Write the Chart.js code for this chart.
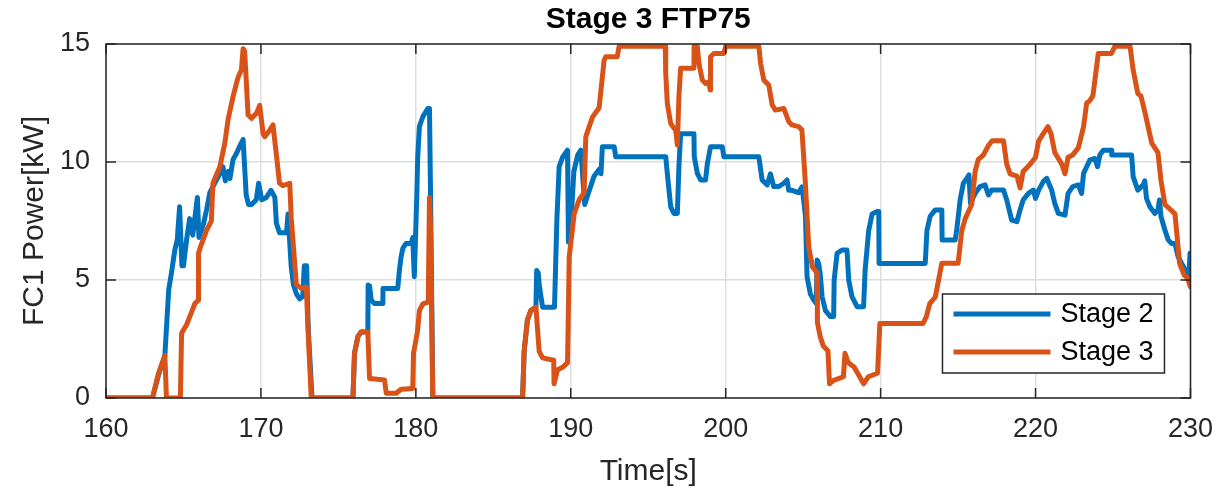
<!DOCTYPE html>
<html>
<head>
<meta charset="utf-8">
<script src="https://cdn.jsdelivr.net/npm/chart.js@4/dist/chart.umd.min.js"></script>
<style>
  html, body { margin: 0; padding: 0; background: #fff; }
  #wrap { width: 1228px; height: 492px; }
</style>
</head>
<body>
<div id="wrap"><canvas id="fcChart" width="1228" height="492"></canvas></div>
<script>
// ===================================
// DATA
// ===================================
const xTicks = [160, 170, 180, 190, 200, 210, 220, 230];
const yTicks = [0, 5, 10, 15];
const seriesLabels = ['Stage 2', 'Stage 3'];

const stage2Time = [
  160, 163.0, 163.4, 163.8, 163.95, 164.05, 164.2, 164.45, 164.6, 164.75, 164.9, 165.0, 165.2, 165.4,
  165.6, 165.9, 166.0, 166.3, 166.5, 166.7, 167.1, 167.35, 167.55, 167.7, 167.9, 168.0, 168.2, 168.45,
  168.65, 168.85, 169.05, 169.2, 169.4, 169.7, 169.85, 170.05, 170.35, 170.65, 170.9, 171.0, 171.2,
  171.65, 171.75, 171.95, 172.1, 172.3, 172.5, 172.7, 172.8, 172.95, 173.05, 173.3,
  175.94, 176.04, 176.26, 176.47, 176.9, 176.92, 177.01, 177.12, 177.33, 177.87, 177.88, 178.83, 178.94,
  179.05, 179.16, 179.37, 179.7, 179.8, 179.9, 180.06, 180.12, 180.23, 180.45, 180.77, 180.88, 180.95, 181.1,
  186.89, 186.99, 187.2, 187.42, 187.75, 187.8, 187.9, 187.96, 188.18, 188.95, 189.1, 189.25, 189.47,
  189.79, 189.85, 189.95, 190.2, 190.45, 190.65, 190.9, 191.1, 191.3, 191.5, 191.85, 191.95, 192.04,
  192.8, 192.9, 196.13, 196.23, 196.45, 196.66, 196.88, 196.98, 197.09, 197.95, 197.97, 198.17, 198.38,
  198.7, 198.81, 199.02, 199.78, 199.88, 202.14, 202.35, 202.68, 202.89, 203.1, 203.43, 203.75, 203.96,
  204.07, 204.28, 204.7, 204.93, 205.15, 205.25, 205.47, 205.68, 205.85, 205.9, 206.0, 206.1, 206.22,
  206.44, 206.76, 206.97, 207.0, 207.19, 207.51, 207.83, 207.94, 208.15, 208.48, 208.9, 209.0, 209.23,
  209.45, 209.77, 209.88, 209.9, 212.88, 212.99, 213.2, 213.53, 213.95, 213.97, 214.81, 214.91, 215.13,
  215.34, 215.46, 215.7, 215.8, 216.1, 216.42, 216.74, 216.96, 217.17, 217.93, 218.14, 218.46, 218.8,
  219.0, 219.2, 219.54, 219.86, 220.0, 220.2, 220.5, 220.72, 221.04, 221.24, 221.47, 221.9, 222.1, 222.4,
  222.76, 222.97, 223.1, 223.3, 223.5, 223.83, 224.0, 224.15, 224.37, 224.9, 224.92, 226.2, 226.3, 226.6,
  226.95, 227.05, 227.16, 227.38, 227.7, 227.9, 228.0, 228.1, 228.35, 228.56, 228.78, 229.0, 229.2,
  229.42, 229.6, 229.8, 229.9, 229.97
];
const stage2Power = [
  0, 0, 1.0, 1.8, 3.5, 4.6, 5.2, 6.3, 6.7, 8.1, 5.6, 5.6, 6.7, 7.6,
  6.9, 8.5, 6.8, 7.4, 8.0, 8.7, 9.2, 9.5, 9.8, 9.2, 9.6, 9.3, 10.1, 10.4,
  10.7, 10.95, 8.6, 8.2, 8.2, 8.4, 9.1, 8.4, 8.5, 8.8, 8.5, 7.4, 7.0,
  7.0, 7.8, 5.6, 4.8, 4.4, 4.2, 4.3, 5.6, 5.6, 3.0, 0,
  0, 1.9, 2.6, 2.8, 2.8, 4.79, 4.75, 4.15, 4.0, 4.0, 4.64, 4.64, 5.42,
  5.99, 6.34, 6.55, 6.55, 6.8, 5.14, 8.53, 10.2, 11.5, 11.92, 12.27, 12.27, 8.5, 0,
  0, 1.98, 3.3, 3.7, 3.85, 5.4, 5.3, 4.8, 3.85, 3.85, 7.5, 9.8, 10.2,
  10.5, 6.6, 6.7, 9.6, 10.3, 10.5, 8.2, 8.6, 9.0, 9.4, 9.7, 9.5, 10.65,
  10.65, 10.22, 10.22, 9.52, 8.1, 7.82, 7.82, 9.8, 11.2, 11.2, 10.22, 9.52, 9.24,
  9.24, 9.9, 10.65, 10.65, 10.22, 10.22, 9.24, 9.03, 9.5, 8.96, 8.96, 9.1, 9.24,
  8.8, 8.8, 8.7, 8.95, 7.7, 5.14, 4.4, 4.15, 4.0, 5.85, 5.7, 5.28, 4.3,
  3.7, 3.45, 3.45, 5.0, 6.13, 6.27, 6.27, 5.0, 4.3, 3.87, 3.87, 5.42, 7.1,
  7.8, 7.9, 7.9, 5.7, 5.7, 7.1, 7.7, 7.97, 7.97, 6.69, 6.69, 7.1, 8.39,
  9.1, 9.2, 9.45, 8.25, 8.67, 8.96, 9.03, 8.6, 8.81, 8.81, 8.39, 7.54, 7.47,
  7.97, 8.39, 8.67, 8.81, 8.46, 8.81, 9.17, 9.31, 8.81, 8.25, 7.82, 7.75, 8.67, 8.96,
  9.03, 8.67, 9.52, 9.8, 10.08, 10.15, 9.8, 10.3, 10.5, 10.5, 10.3, 10.3, 9.38, 8.81,
  9.03, 9.2, 8.46, 8.1, 7.82, 7.97, 8.39, 7.68, 7.12, 6.7, 6.55, 6.55, 5.99,
  5.71, 5.5, 5.28, 5.2, 6.13
];

const stage3Time = [
  160, 163.0, 163.37, 163.8, 163.9, 164.8, 164.88, 165.2, 165.73, 165.95, 165.97, 166.1, 166.49, 166.8,
  166.9, 167.35, 167.67, 167.88, 168.2, 168.42, 168.53, 168.74, 168.85, 168.95, 169.17, 169.39, 169.71,
  169.92, 170.14, 170.25, 170.57, 170.78, 171.0, 171.2, 171.42, 171.86, 171.96, 172.18, 172.29, 172.6,
  172.93, 173.04, 173.25,
  175.94, 176.04, 176.26, 176.47, 176.9, 177.01, 177.98, 178.09, 178.73, 179.05, 179.8, 179.85, 180.1,
  180.23, 180.45, 180.8, 180.88, 180.95, 181.09,
  186.89, 186.99, 187.2, 187.42, 187.75, 187.96, 188.18, 188.9, 188.92, 189.15, 189.47, 189.79, 189.9,
  190.22, 190.54, 190.86, 190.97, 191.19, 191.4, 191.83, 192.15, 192.26, 193.0, 193.12, 196.1, 196.13,
  196.23, 196.45, 196.66, 196.77, 196.88, 196.98, 197.09, 197.95, 197.96, 198.17, 198.27, 198.49, 198.7,
  198.91, 199.0, 199.02, 199.24, 199.88, 200.0, 202.14, 202.25, 202.46, 202.78, 203.0, 203.2, 203.75,
  204.07, 204.28, 204.7, 204.92, 205.13, 205.36, 205.6, 205.9, 205.92, 206.1, 206.3, 206.6, 206.7,
  206.97, 207.6, 207.7, 207.8, 207.9, 208.3, 208.9, 209.2, 209.8, 209.95, 212.74, 212.95, 213.17, 213.53,
  213.95, 215.0, 215.24, 215.46, 215.88, 216.1, 216.3, 216.64, 216.96, 217.2, 217.93, 218.14, 218.36,
  218.8, 219.0, 219.2, 219.65, 220.0, 220.2, 220.5, 220.8, 221.0, 221.24, 221.7, 221.9, 222.1, 222.4,
  222.76, 223.1, 223.3, 223.5, 223.7, 224.05, 224.9, 225.12, 226.1, 226.3, 226.6, 226.8, 227.06, 227.5,
  227.9, 228.1, 228.35, 229.0, 229.1, 229.3, 229.6, 229.8, 230.0
];
const stage3Power = [
  0, 0, 1.0, 1.8, 0, 0, 2.74, 3.1, 3.99, 4.14, 6.13, 6.4, 7.1, 7.5,
  9.1, 9.8, 10.8, 11.8, 12.77, 13.33, 13.6, 13.9, 14.8, 14.7, 12.0, 11.85, 12.06,
  12.4, 11.2, 11.07, 11.35, 11.57, 10.3, 9.1, 9.0, 9.1, 7.6, 5.7, 4.8, 4.65,
  4.7, 2.9, 0,
  0, 1.9, 2.6, 2.8, 2.8, 0.83, 0.76, 0.2, 0.2, 0.37, 0.4, 1.9, 2.8,
  3.7, 3.99, 4.06, 8.5, 7.1, 0,
  0, 1.98, 3.3, 3.7, 3.85, 1.98, 1.7, 1.6, 0.6, 1.2, 1.3, 1.5, 5.98,
  7.8, 8.4, 8.7, 11.07, 11.5, 11.9, 12.3, 14.3, 14.46, 14.46, 14.9, 14.9, 13.76,
  12.49, 11.64, 11.43, 11.36, 10.72, 12.77, 13.97, 13.97, 14.9, 14.9, 14.18, 13.47, 13.33,
  13.4, 13.05, 14.46, 14.6, 14.6, 14.9, 14.9, 14.18, 13.47, 13.26, 12.42, 12.2, 12.27,
  11.71, 11.57, 11.5, 11.36, 9.24, 6.4, 5.55, 5.3, 3.2, 2.6, 2.2, 2.0, 0.6,
  0.75, 0.9, 1.9, 1.7, 1.5, 1.3, 0.6, 0.9, 1.05, 3.16, 3.16, 3.45, 4.0, 4.28,
  5.71, 5.71, 7.1, 7.6, 8.2, 9.6, 10.1, 10.3, 10.7, 10.9, 10.9, 9.9, 9.5,
  9.4, 8.9, 9.6, 9.9, 10.2, 10.9, 11.2, 11.5, 11.2, 10.4, 9.9, 9.5, 10.2, 10.3,
  10.6, 11.5, 12.5, 12.6, 12.8, 14.6, 14.6, 14.9, 14.9, 13.9, 12.9, 12.8, 12.1, 10.8,
  10.4, 9.2, 8.2, 7.8, 7.1, 5.7, 5.2, 5.1, 4.7
];

// ===================================
// HELPERS / PLUGINS
// ===================================
const axisColor = '#262626';
const fontFamily = '"Liberation Sans", Arial, sans-serif';

function toPoints(times, values) {
    return times.map((t, i) => ({ x: t, y: values[i] }));
}

// MATLAB style box, inward ticks and legend
const matlabAxes = {
    id: 'matlabAxes',
    afterDatasetsDraw(chart) {
        const { ctx, chartArea: a, scales: { x, y } } = chart;
        ctx.save();
        ctx.strokeStyle = axisColor;
        ctx.lineWidth = 1.5;
        ctx.strokeRect(a.left, a.top, a.right - a.left, a.bottom - a.top);

        // inward tick marks on all four sides
        const len = 10;
        ctx.beginPath();
        xTicks.forEach(v => {
            const px = x.getPixelForValue(v);
            ctx.moveTo(px, a.bottom); ctx.lineTo(px, a.bottom - len);
            ctx.moveTo(px, a.top); ctx.lineTo(px, a.top + len);
        });
        yTicks.forEach(v => {
            const py = y.getPixelForValue(v);
            ctx.moveTo(a.left, py); ctx.lineTo(a.left + len, py);
            ctx.moveTo(a.right, py); ctx.lineTo(a.right - len, py);
        });
        ctx.stroke();

        // legend box, lower right
        const w = 222, h = 79;
        const lx = a.right - 26 - w;
        const ly = a.bottom - 25 - h;
        ctx.fillStyle = '#ffffff';
        ctx.fillRect(lx, ly, w, h);
        ctx.lineWidth = 1.5;
        ctx.strokeStyle = axisColor;
        ctx.strokeRect(lx, ly, w, h);

        ctx.font = '27px ' + fontFamily;
        ctx.textBaseline = 'middle';
        ctx.textAlign = 'left';
        chart.data.datasets.forEach((ds, i) => {
            const rowY = ly + 20 + i * 38;
            ctx.beginPath();
            ctx.strokeStyle = ds.borderColor;
            ctx.lineWidth = 5;
            ctx.moveTo(lx + 11, rowY);
            ctx.lineTo(lx + 108, rowY);
            ctx.stroke();
            ctx.fillStyle = '#000000';
            ctx.fillText(ds.label, lx + 118, rowY + 1);
        });
        ctx.restore();
    }
};

// ===================================
// CHART
// ===================================
const ctx = document.getElementById('fcChart');

new Chart(ctx, {
    type: 'line',
    data: {
        datasets: [
            {
                label: seriesLabels[0],
                data: toPoints(stage2Time, stage2Power),
                borderColor: '#0072BD',
                borderWidth: 5,
                order: 1
            },
            {
                label: seriesLabels[1],
                data: toPoints(stage3Time, stage3Power),
                borderColor: '#D95319',
                borderWidth: 5,
                order: 0
            }
        ]
    },
    options: {
        responsive: false,
        animation: false,
        devicePixelRatio: 1,
        font: { family: fontFamily },
        elements: {
            point: { radius: 0, hoverRadius: 0 },
            line: { tension: 0, borderJoinStyle: 'round', borderCapStyle: 'round' }
        },
        layout: { padding: { left: 0, right: 36, top: 0, bottom: 0 } },
        plugins: {
            legend: { display: false },
            tooltip: { enabled: false },
            title: {
                display: true,
                fullSize: false,
                text: 'Stage 3 FTP75',
                color: '#000000',
                font: { family: fontFamily, size: 30, weight: 'bold', lineHeight: 1.2 },
                padding: { top: 2, bottom: 6 }
            }
        },
        scales: {
            x: {
                type: 'linear',
                min: 160,
                max: 230,
                afterFit: s => { s.height = 94; },
                ticks: {
                    stepSize: 10,
                    color: axisColor,
                    padding: 15,
                    font: { family: fontFamily, size: 27 },
                    maxRotation: 0
                },
                grid: { color: '#dedede', lineWidth: 1.5, drawTicks: false },
                border: { display: false },
                title: {
                    display: true,
                    text: 'Time[s]',
                    color: axisColor,
                    font: { family: fontFamily, size: 30, lineHeight: 1.2 },
                    padding: { top: 0, bottom: 2 }
                }
            },
            y: {
                min: 0,
                max: 15,
                afterFit: s => { s.width = 106; },
                ticks: {
                    stepSize: 5,
                    color: axisColor,
                    padding: 16,
                    font: { family: fontFamily, size: 27 }
                },
                grid: { color: '#dedede', lineWidth: 1.5, drawTicks: false },
                border: { display: false },
                title: {
                    display: true,
                    text: 'FC1 Power[kW]',
                    color: axisColor,
                    font: { family: fontFamily, size: 30, lineHeight: 1.2 },
                    padding: { top: 17, bottom: 0 }
                }
            }
        }
    },
    plugins: [matlabAxes]
});
</script>
</body>
</html>
